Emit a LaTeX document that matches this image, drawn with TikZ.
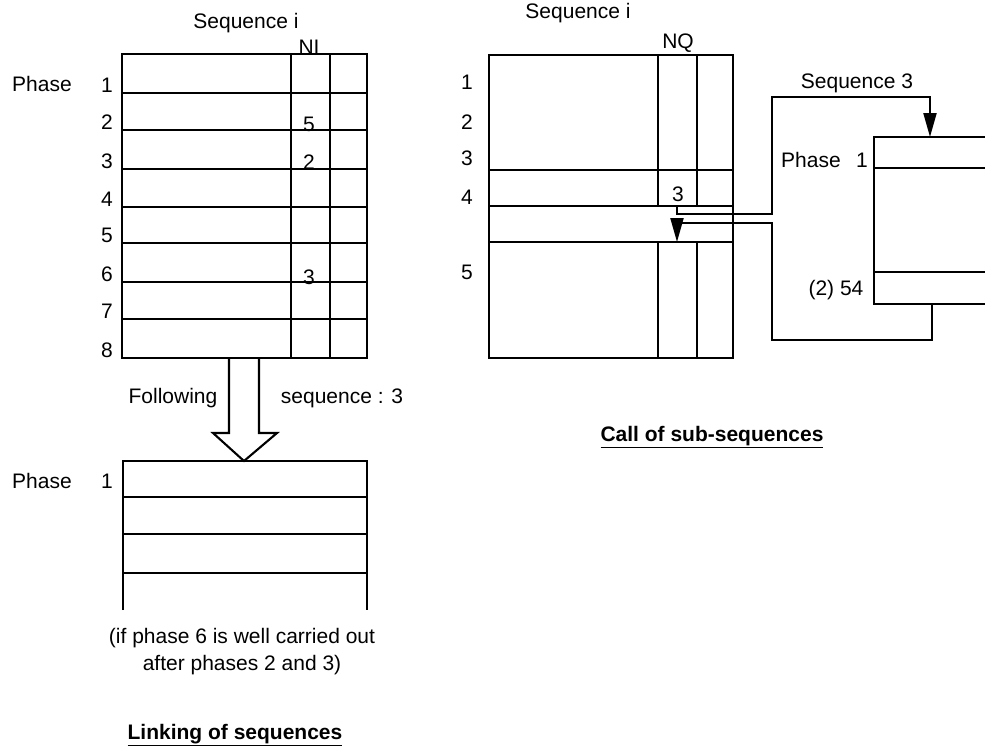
\documentclass[tikz,border=0pt]{standalone}
\usepackage{fontspec}
\setmainfont{Liberation Sans}
\usetikzlibrary{arrows.meta}

\tikzset{
  tab/.style={line width=2.1pt},
  lbl/.style={font=\fontsize{21}{27}\selectfont, inner sep=0pt},
  flow/.style={line width=2.1pt, -{Triangle[length=24pt,width=13pt]}},
}

\begin{document}
\begin{tikzpicture}[x=1pt,y=-1pt]
\useasboundingbox (0,0) rectangle (985,747);

% sequence i, linking side
\node[lbl] (seqi) at (246,23) {Sequence i};
\node[lbl] (ni) at (309,47) {NI};
\draw[tab] (122,54) rectangle (367,358);
\draw[tab] (291,54) -- (291,358);
\draw[tab] (330,54) -- (330,358);
\node[lbl] (phase) at (42,84) {Phase};
\foreach \y/\n in {93/1,130/2,169/3,207/4,243/5,282/6,319/7,358/8} {
  \draw[tab] (122,\y) -- (367,\y);
  \node[lbl] (ph\n) at (107,\y-8) {\n};
}
\node[lbl] (ni2) at (309,124) {5};
\node[lbl] (ni3) at (309,162) {2};
\node[lbl] (ni6) at (309,277) {3};

% hollow arrow to the next sequence
\draw[tab] (229,358) -- (229,433) -- (213,433) -- (244,461) -- (277,433) -- (259,433) -- (259,358);
\node[lbl] (follow) at (173,398) {Following};
\node[lbl] (nextseq) at (342,398) {sequence : 3};

% following sequence
\draw[tab] (123,610) -- (123,461) -- (367,461) -- (367,610);
\foreach \y in {497,534,573}
  \draw[tab] (123,\y) -- (367,\y);
\node[lbl] (phase2) at (42,481) {Phase};
\node[lbl] (nph1) at (107,481) {1};
\node[lbl, align=center] (cond) at (242,652) {(if phase 6 is well carried out\\after phases 2 and 3)};
\node[lbl] (title1) at (235,735) {\textbf{\underline{Linking of sequences}}};

% sequence i, calling side
\node[lbl] (seqj) at (578,13) {Sequence i};
\node[lbl] (nq) at (678,43) {NQ};
\draw[tab] (489,55) rectangle (733,358);
\draw[tab] (658,55) -- (658,206) (658,242) -- (658,358);
\draw[tab] (697,55) -- (697,206) (697,242) -- (697,358);
\foreach \y in {170,206,242}
  \draw[tab] (489,\y) -- (733,\y);
\foreach \y/\n in {82/1,122/2,158/3,197/4,272/5} {
  \node[lbl] (q\n) at (467,\y) {\n};
}
\node[lbl] (nq4) at (678,194) {3};

% sub-sequence 3
\draw[tab] (985,137) -- (874,137) -- (874,304) -- (985,304);
\draw[tab] (874,168) -- (985,168);
\draw[tab] (874,272) -- (985,272);
\node[lbl] (seq3) at (857,83) {Sequence 3};
\node[lbl] (sph) at (811,160) {Phase};
\node[lbl] (sph1) at (862,160) {1};
\node[lbl] (sret) at (836,290) {(2) 54};

% call and return
\coordinate (callfrom) at (677,206);
\coordinate (callto) at (930,137);
\coordinate (retfrom) at (932,304);
\coordinate (retto) at (677,242);
\draw[flow] (callfrom) -- (677,214) -- (772,214) -- (772,97) -- (930,97) -- (callto);
\draw[flow] (retfrom) -- (932,340) -- (772,340) -- (772,223) -- (677,223) -- (retto);

\node[lbl] (title2) at (712,437) {\textbf{\underline{Call of sub-sequences}}};
\end{tikzpicture}
\end{document}
